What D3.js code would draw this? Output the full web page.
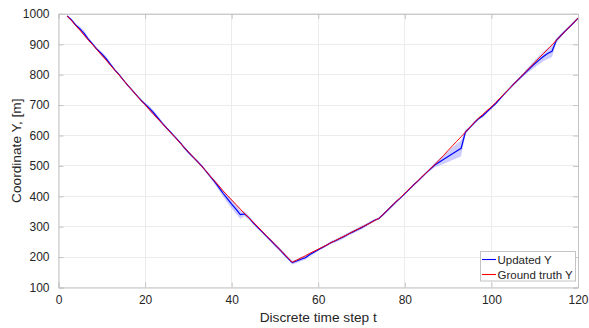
<!DOCTYPE html>
<html><head><meta charset="utf-8">
<script src="https://cdn.jsdelivr.net/npm/d3@7"></script>
<style>body{margin:0;background:#fff}svg{display:block}</style>
</head><body>
<svg id="chart" width="589" height="328"></svg>
<script>
// time steps 2..120
const timeSteps = d3.range(2, 121);
const groundTruthY = [
 993,978,961,946,929,912,897,880,864,848,831,815,799,782,765,749,732,716,
 701,685,669,654,639,623,608,593,577,561,546,531,515,500,
 484,467,451,435,418,403,388,373,358,343,
 329,314,300,285,271,256,242,227,212,198,183,
 190,197,204,212,219,226,233,240,248,255,262,269,276,284,291,298,305,312,320,327,
 341,355,369,383,396,410,424,437,451,465,478,492,505,
 520,535,551,566,581,596,611,627,642,657,669,682,694,
 709,723,738,752,767,782,796,811,825,840,855,869,884,898,913,928,942,957,971,986];
const updatedY = [
 993,980,963,950,934,915,899,882,868,853,834,816,800,782,765,749,733,717,
 703,689,674,657,640,624,609,594,578,561,545,530,516,501,
 484,466,449,430,410,392,374,358,340,342,
 329,313,298,284,269,255,240,226,211,196,182,
 187,193,198,208,216,224,232,240,248,254,261,268,276,283,290,297,305,313,321,327,
 340,354,368,382,395,409,423,437,450,464,478,491,504,
 513,522,531,540,549,558,611,626,641,655,665,679,692,
 705,721,737,752,767,781,795,809,823,836,848,860,870,877,913,928,943,957,971,986];
const bandHalfWidth = [
 3,3,5, 8,9,6, 4,4, 7,8,5, 3,3,3,3,3,3,4,5, 8,9,7,5, 4,3,3,4,5,4,3,3,3,
 4,5,7, 9,11,13,14,15,14,8, 6,5,5,4,4,5,6,6,5,5,6, 6,7,7,6,5,4,
 4,4,5,5,6,6,5,5,6,6,5,4,4,3, 3,3,3,3,3,3,3,3,3,3,4,5,
 8,12,15,18,21,24,26,8, 4,4,4,6,6,5, 4,4,3,3,3,4,5, 7,10,12,14,16,18,19, 8,6,4,3,3,3];
const xTicks = [0,20,40,60,80,100,120];
const yTicks = [100,200,300,400,500,600,700,800,900,1000];
const seriesNames = ["Updated Y","Ground truth Y"];
const seriesColors = ["#0000ff","#ff0000"];

const W = 589, H = 328;
const m = {left:58.5, right:11, top:13.9, bottom:40.5};
const svg = d3.select("#chart");
const x = d3.scaleLinear().domain([0,120]).range([m.left, W-m.right]);
const y = d3.scaleLinear().domain([100,1000]).range([H-m.bottom, m.top]);
const font = "'Liberation Sans', Arial, sans-serif";
const axisCol = "#c4c4c4", textCol = "#262626";

// grid
const g = svg.append("g");
g.selectAll(".gx").data(xTicks).join("line")
 .attr("x1",d=>x(d)).attr("x2",d=>x(d)).attr("y1",m.top).attr("y2",H-m.bottom)
 .attr("stroke","#ececec").attr("stroke-width",1).attr("shape-rendering","crispEdges");
g.selectAll(".gy").data(yTicks).join("line")
 .attr("y1",d=>y(d)).attr("y2",d=>y(d)).attr("x1",m.left).attr("x2",W-m.right)
 .attr("stroke","#ececec").attr("stroke-width",1).attr("shape-rendering","crispEdges");

const pts = timeSteps.map((t,i)=>({t, gt:groundTruthY[i], up:updatedY[i], hw:bandHalfWidth[i]}));

// band
svg.append("path").datum(pts)
 .attr("d", d3.area().x(d=>x(d.t)).y0(d=>y(d.up-d.hw)).y1(d=>y(d.up+d.hw)))
 .attr("fill","#0000ff").attr("fill-opacity",0.2).attr("stroke","none");
// updated line
svg.append("path").datum(pts)
 .attr("d", d3.line().x(d=>x(d.t)).y(d=>y(d.up)))
 .attr("fill","none").attr("stroke",seriesColors[0]).attr("stroke-width",1.2);
// ground truth
svg.append("path").datum(pts)
 .attr("d", d3.line().x(d=>x(d.t)).y(d=>y(d.gt)))
 .attr("fill","none").attr("stroke",seriesColors[1]).attr("stroke-width",1);

// axes
const fmt = d3.format("d");
const xb = d3.axisBottom(x).tickValues(xTicks).tickSize(-5).tickPadding(8).tickFormat(fmt);
const yl = d3.axisLeft(y).tickValues(yTicks).tickSize(-5).tickPadding(9).tickFormat(fmt);
const xt = d3.axisTop(x).tickValues(xTicks).tickSize(-5).tickFormat("");
const yr = d3.axisRight(y).tickValues(yTicks).tickSize(-5).tickFormat("");
function style(sel){
  sel.selectAll("path").attr("stroke",axisCol).attr("stroke-width",1);
  sel.selectAll("line").attr("stroke",axisCol);
  sel.selectAll("text").attr("fill",textCol).style("font-family",font).style("font-size","12px");
}
svg.append("g").attr("transform",`translate(0,${H-m.bottom})`).call(xb).call(style);
svg.append("g").attr("transform",`translate(${m.left},0)`).call(yl).call(style);
svg.append("g").attr("transform",`translate(0,${m.top})`).call(xt).call(style);
svg.append("g").attr("transform",`translate(${W-m.right},0)`).call(yr).call(style);

// titles
svg.append("text").attr("x",(m.left+W-m.right)/2).attr("y",321.5).attr("text-anchor","middle")
 .attr("fill",textCol).style("font-family",font).style("font-size","13.7px").text("Discrete time step t");
svg.append("text").attr("transform",`translate(21,${(m.top+H-m.bottom)/2}) rotate(-90)`).attr("text-anchor","middle")
 .attr("fill",textCol).style("font-family",font).style("font-size","13.7px").text("Coordinate Y, [m]");

// legend
const lg = svg.append("g");
lg.append("rect").attr("x",480.5).attr("y",251.5).attr("width",95).attr("height",29.5)
 .attr("fill","#fff").attr("stroke","#c4c4c4").attr("stroke-width",1);
seriesNames.forEach((n,i)=>{
  const yy = 259.5 + i*15;
  lg.append("line").attr("x1",482).attr("x2",496).attr("y1",yy).attr("y2",yy)
    .attr("stroke",seriesColors[i]).attr("stroke-width",1.1);
  lg.append("text").attr("x",497.5).attr("y",yy+4).attr("fill",textCol)
    .style("font-family",font).style("font-size","11.5px").text(n);
});
</script>
</body></html>
